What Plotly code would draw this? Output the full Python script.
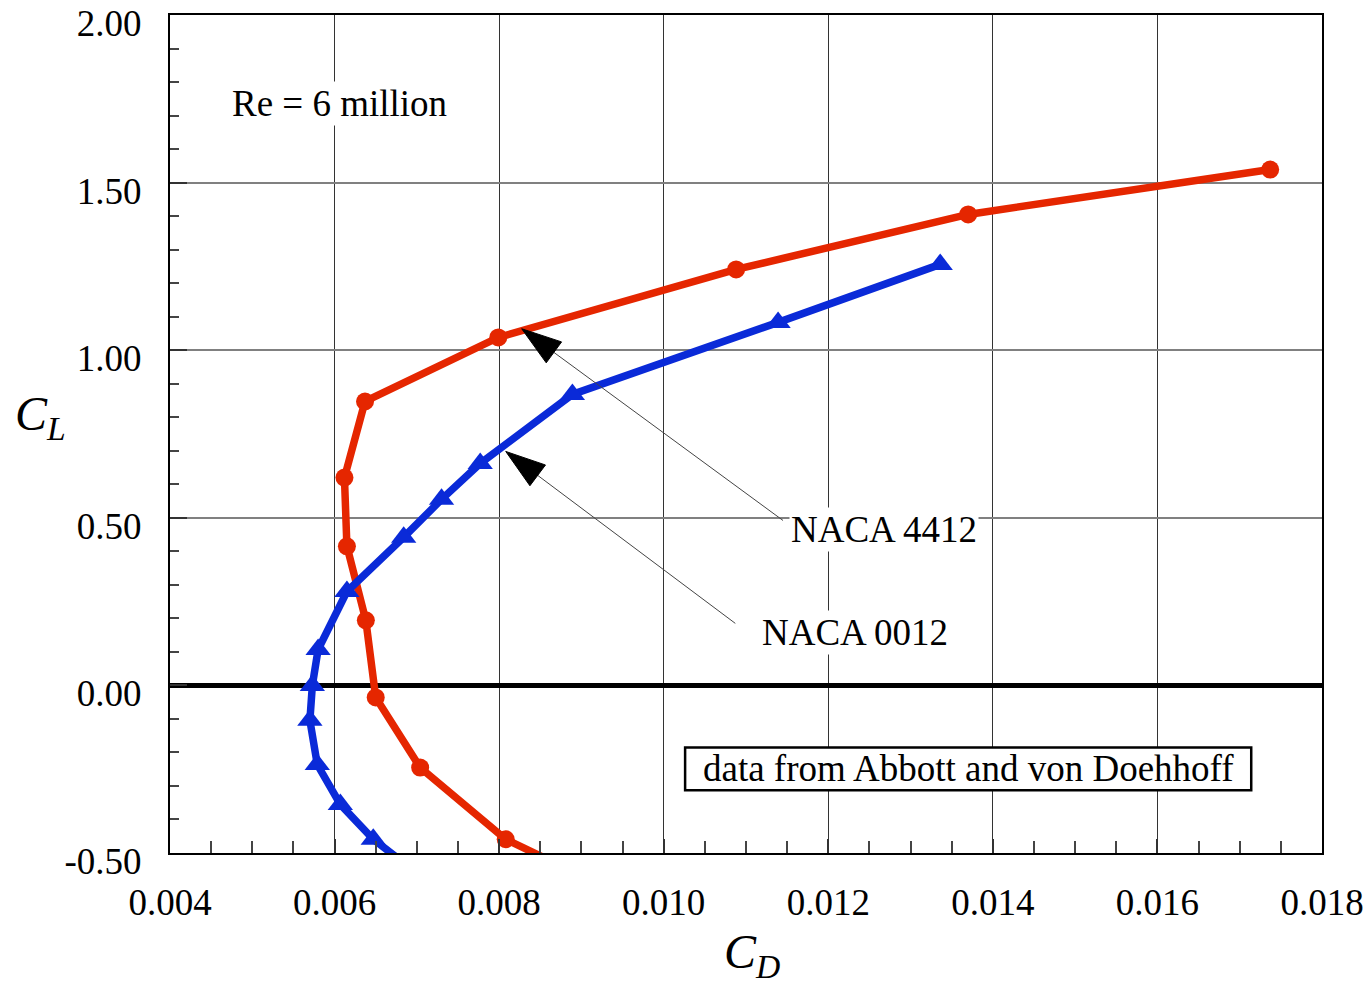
import plotly.graph_objects as go

# Drag polar data, Re = 6 million
naca4412_cd = [0.00885, 0.00808, 0.00704, 0.00650, 0.00638, 0.00615, 0.00612,
               0.00637, 0.00799, 0.01088, 0.01370, 0.01737]
naca4412_cl = [-0.55, -0.459, -0.245, -0.036, 0.194, 0.415, 0.620,
               0.847, 1.038, 1.241, 1.405, 1.539]

naca0012_cd = [0.00695, 0.00647, 0.00607, 0.00579, 0.00570, 0.00573, 0.00580,
               0.00615, 0.00684, 0.00730, 0.00777, 0.00889, 0.01139, 0.01336]
naca0012_cl = [-0.55, -0.459, -0.355, -0.236, -0.104, 0.0, 0.107,
               0.280, 0.442, 0.555, 0.662, 0.868, 1.083, 1.256]

x_ticks = [0.004, 0.006, 0.008, 0.010, 0.012, 0.014, 0.016, 0.018]
x_labels = ["0.004", "0.006", "0.008", "0.010", "0.012", "0.014", "0.016", "0.018"]
y_ticks = [-0.50, 0.00, 0.50, 1.00, 1.50, 2.00]
y_labels = ["-0.50", "0.00", "0.50", "1.00", "1.50", "2.00"]

# label pointers: (tail, tip) in data units
pointer_4412 = ([0.01145, 0.008274], [0.492, 1.064])
pointer_0012 = ([0.01087, 0.00808], [0.185, 0.698])

# frame around the source note, data units
note_box = dict(x0=0.01026, x1=0.01714, y0=-0.313, y1=-0.185)

RED = "#e52600"
BLUE = "#0a2ad8"
SERIF = "Liberation Serif, Times New Roman, serif"
FS = 37

fig = go.Figure()

fig.add_trace(go.Scatter(
    x=naca4412_cd, y=naca4412_cl, mode="lines+markers", name="NACA 4412",
    line=dict(color=RED, width=7.5),
    marker=dict(symbol="circle", size=18, color=RED),
))
fig.add_trace(go.Scatter(
    x=naca0012_cd, y=naca0012_cl, mode="lines+markers", name="NACA 0012",
    line=dict(color=BLUE, width=7.5),
    marker=dict(symbol="triangle-up", size=22, color=BLUE),
))

for px, py in (pointer_4412, pointer_0012):
    fig.add_trace(go.Scatter(
        x=px, y=py, mode="lines+markers",
        line=dict(color="#444", width=1),
        marker=dict(symbol=["circle", "arrow"], size=[0, 42], color="black",
                    opacity=1, angleref="previous",
                    line=dict(width=1, color="black")),
        hoverinfo="skip",
    ))

axis_common = dict(
    showline=True, linecolor="black", linewidth=2, mirror=True,
    ticks="inside", tickcolor="#333", tickwidth=2,
    tickfont=dict(family=SERIF, size=FS, color="black"),
    showgrid=True, automargin=False, ticklabeloverflow="allow",
)

fig.update_xaxes(
    range=[0.004, 0.018], tickvals=x_ticks, ticktext=x_labels,
    gridcolor="#333", gridwidth=1, ticklen=14, zeroline=False,
    ticklabelstandoff=16,
    minor=dict(dtick=0.0005, tick0=0.004, ticks="inside", ticklen=12,
               tickcolor="#444", tickwidth=1.5, showgrid=False),
    **axis_common,
)
fig.update_yaxes(
    range=[-0.5, 2.0], tickvals=y_ticks, ticktext=y_labels,
    gridcolor="#808080", gridwidth=2, ticklen=17,
    zeroline=True, zerolinecolor="black", zerolinewidth=5,
    ticklabelstandoff=19, ticklabelshift=8,
    minor=dict(dtick=0.1, tick0=0, ticks="inside", ticklen=9,
               tickcolor="#444", tickwidth=1.5, showgrid=False),
    **axis_common,
)

fig.add_shape(type="rect", xref="x", yref="y", layer="above",
              fillcolor="white", line=dict(color="black", width=2.5),
              **note_box)

text_font = dict(family=SERIF, size=FS, color="black")
annotations = [
    dict(x=0.00473, y=1.736, text="Re = 6 million", xanchor="left", bgcolor="white"),
    dict(x=0.01152, y=0.465, text="NACA 4412", xanchor="left", bgcolor="white"),
    dict(x=0.01117, y=0.158, text="NACA 0012", xanchor="left", bgcolor="white"),
    dict(x=0.0137, y=-0.249, text="data from Abbott and von Doehhoff", xanchor="center"),
]
for a in annotations:
    fig.add_annotation(xref="x", yref="y", showarrow=False, font=text_font,
                       borderpad=1, yanchor="middle", **a)

# axis titles
fig.add_annotation(xref="paper", yref="paper", x=-0.136, y=0.52,
                   text="<i>C<sub>L</sub></i>", showarrow=False,
                   font=dict(family=SERIF, size=48, color="black"))
fig.add_annotation(xref="paper", yref="paper", x=0.505, y=-0.16,
                   text="<i>C<sub>D</sub></i>", showarrow=False,
                   font=dict(family=SERIF, size=48, color="black"))

fig.update_layout(
    width=1367, height=989,
    margin=dict(l=170, r=45, t=15, b=136),
    plot_bgcolor="white", paper_bgcolor="white",
    showlegend=False,
)

fig.write_html("out.html")
